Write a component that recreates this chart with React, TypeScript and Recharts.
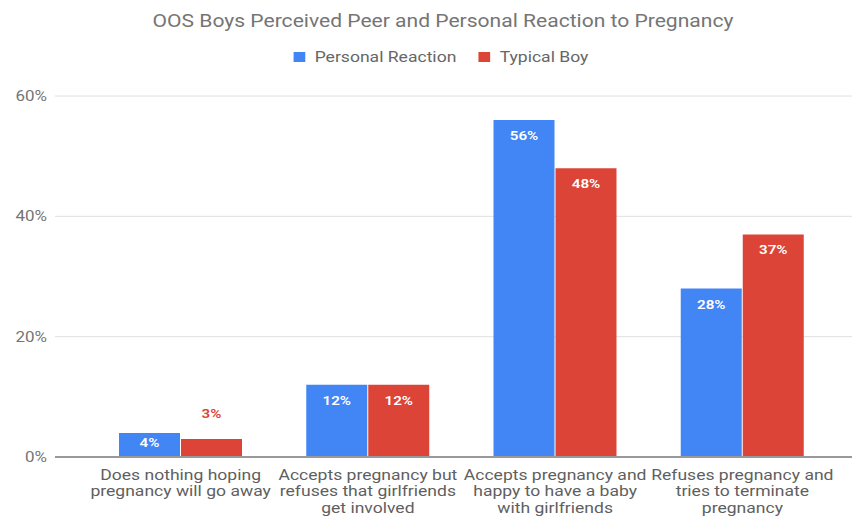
import { BarChart, Bar, XAxis, YAxis, CartesianGrid, Legend, LabelList } from 'recharts';

const categories = [
  'Does nothing hoping\npregnancy will go away',
  'Accepts pregnancy but\nrefuses that girlfriends\nget involved',
  'Accepts pregnancy and\nhappy to have a baby\nwith girlfriends',
  'Refuses pregnancy and\ntries to terminate\npregnancy',
];
const personalReaction = [0.04, 0.12, 0.56, 0.28];
const typicalBoy = [0.03, 0.12, 0.48, 0.37];
const yTicks = [0, 0.2, 0.4, 0.6];

const BLUE = '#4285f4';
const RED = '#db4437';
const FONT = 'Roboto, "Noto Sans", sans-serif';
// the source picture is a bit wider than tall, so text gets stretched sideways
const SX = 1.17;

const data = categories.map((name, i) => ({
  name,
  personal: personalReaction[i],
  typical: typicalBoy[i],
}));

const pct = (v: number) => `${Math.round(v * 100)}%`;

const CategoryTick = (props: any) => {
  const { x, y, payload } = props;
  const lines = String(payload.value).split('\n');
  return (
    <text
      transform={`translate(${x},${y + 15}) scale(${SX},1)`}
      textAnchor="middle"
      fill="#5f5f5f"
      fontSize={15}
      fontFamily={FONT}
    >
      {lines.map((line, i) => (
        <tspan key={i} x={0} dy={i === 0 ? 0 : 16.5}>{line}</tspan>
      ))}
    </text>
  );
};

const PercentTick = (props: any) => {
  const { x, y, payload } = props;
  return (
    <text
      transform={`translate(${x},${y + 5}) scale(${SX},1)`}
      textAnchor="end"
      fill="#757575"
      fontSize={14.5}
      fontFamily={FONT}
    >
      {pct(payload.value)}
    </text>
  );
};

const barLabel = (color: string) => (props: any) => {
  const { x, y, width, height, value } = props;
  const inside = height > 20;
  const by = inside ? Math.min(y + 20, y + height - 10) : y - 21;
  return (
    <text
      transform={`translate(${x + width / 2},${by}) scale(${SX},1)`}
      textAnchor="middle"
      fill={inside ? '#fff' : color}
      fontSize={13}
      fontWeight={600}
      fontFamily={FONT}
    >
      {pct(value)}
    </text>
  );
};

const renderLegend = () => (
  <div
    style={{
      display: 'flex',
      justifyContent: 'center',
      fontFamily: FONT,
      fontSize: 15,
      color: '#666',
      transform: `scaleX(${SX})`,
    }}
  >
    {[
      { label: 'Personal Reaction', color: BLUE },
      { label: 'Typical Boy', color: RED },
    ].map((item) => (
      <div key={item.label} style={{ display: 'flex', alignItems: 'center', margin: '0 9.5px' }}>
        <span style={{ width: 9.5, height: 10, background: item.color, marginRight: 8.5, display: 'inline-block' }} />
        {item.label}
      </div>
    ))}
  </div>
);

export default function App() {
  return (
    <div style={{ position: 'absolute', left: 0, top: 0, width: 859, height: 521, background: '#fff' }}>
      <div
        style={{
          position: 'absolute',
          top: 10,
          left: 0,
          width: 886,
          textAlign: 'center',
          fontFamily: FONT,
          fontSize: 18,
          color: '#757575',
          transform: `scaleX(${SX})`,
        }}
      >
        OOS Boys Perceived Peer and Personal Reaction to Pregnancy
      </div>
      <BarChart
        width={859}
        height={521}
        data={data}
        margin={{ top: 78, right: 7, bottom: 0, left: 0 }}
        barCategoryGap={32}
        barGap={1}
      >
        <CartesianGrid vertical={false} stroke="#e0e0e0" />
        <Legend verticalAlign="top" content={renderLegend} wrapperStyle={{ top: 48, left: 0, width: 882 }} />
        <XAxis
          dataKey="name"
          interval={0}
          tick={<CategoryTick />}
          tickLine={false}
          axisLine={{ stroke: '#999', strokeWidth: 2 }}
          height={64}
          padding={{ left: 32, right: 16 }}
        />
        <YAxis
          domain={[0, 0.6]}
          ticks={yTicks}
          axisLine={false}
          tickLine={false}
          width={55}
          tick={<PercentTick />}
        />
        <Bar dataKey="personal" name="Personal Reaction" fill={BLUE} isAnimationActive={false}>
          <LabelList dataKey="personal" content={barLabel(BLUE)} />
        </Bar>
        <Bar dataKey="typical" name="Typical Boy" fill={RED} isAnimationActive={false}>
          <LabelList dataKey="typical" content={barLabel(RED)} />
        </Bar>
      </BarChart>
    </div>
  );
}
